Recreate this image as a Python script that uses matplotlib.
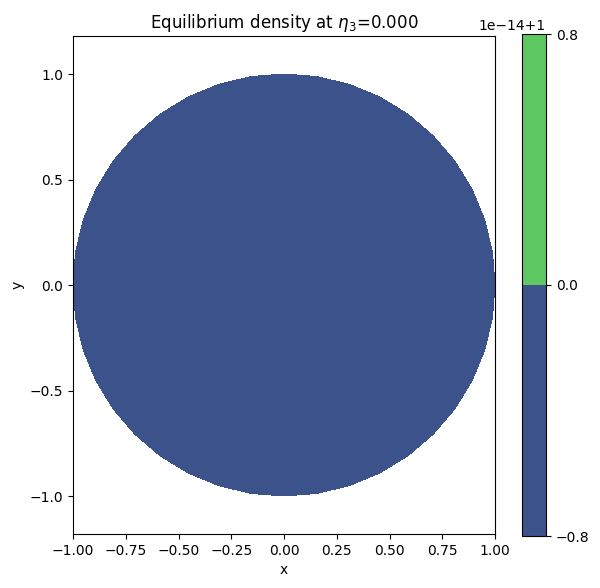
import numpy as np
import matplotlib
matplotlib.use("Agg")
import matplotlib.pyplot as plt
import matplotlib.tri as mtri

# polar sample grid of the disk
radii = [0.0, 0.25, 0.5, 0.75, 1.0]
n_theta = 40
eta3 = 0.000
# equilibrium density is (numerically) uniform ~1
density_value = 1.0 - 4e-16
levels = [1.0 - 0.8e-14, 1.0, 1.0 + 0.8e-14]

xs, ys = [], []
theta = np.linspace(0, 2 * np.pi, n_theta, endpoint=False)
for r in radii:
    if r == 0.0:
        xs.append(0.0); ys.append(0.0)
    else:
        xs.extend(r * np.cos(theta)); ys.extend(r * np.sin(theta))
xs = np.array(xs); ys = np.array(ys)
rho = np.full(len(xs), density_value)
tri = mtri.Triangulation(xs, ys)

fig = plt.figure(figsize=(6, 5.88), dpi=100)
ax = fig.add_axes([73 / 600, 52 / 588, 422 / 600, 502 / 588])
cax = fig.add_axes([522 / 600, 52 / 588, 24 / 600, 502 / 588])

cs = ax.tricontourf(tri, rho, levels=levels, cmap="viridis")
ax.set_xlim(-1, 1)
ax.set_ylim(-1.18, 1.18)
ax.set_aspect("equal")
ax.set_xlabel("x")
ax.set_ylabel("y")
ax.set_title(r"Equilibrium density at $\eta_3$=%.3f" % eta3)
fig.colorbar(cs, cax=cax)

plt.savefig("out.png", dpi=100)
